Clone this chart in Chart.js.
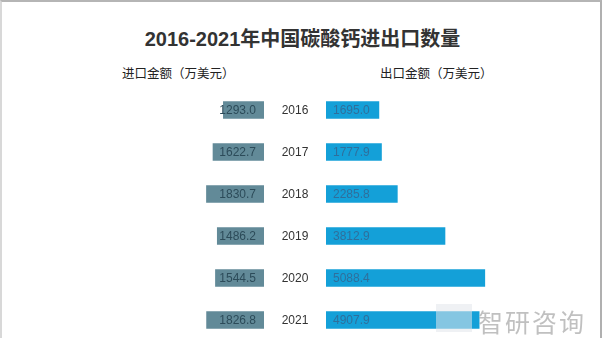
<!DOCTYPE html>
<html>
<head>
<meta charset="utf-8">
<script src="https://cdn.jsdelivr.net/npm/chart.js@4/dist/chart.umd.min.js"></script>
<style>
  body { margin: 0; width: 605px; height: 338px; overflow: hidden; background: #fff; position: relative; font-family: "Liberation Sans", "Noto Sans CJK SC", sans-serif; }
  #frame { position: absolute; left: 0; top: 0; width: 602px; height: 338px; border-top: 2px solid #b5b5b5; border-left: 2px solid #d8d8d8; border-right: 2px solid #b0b0b0; box-sizing: border-box; }
  #title { position: absolute; top: 23px; left: 0; width: 605px; text-align: center; font: bold 20px "Liberation Sans", "Noto Sans CJK SC", sans-serif; color: #333; }
  .head { position: absolute; top: 63px; font: 12.5px "Noto Sans CJK SC", sans-serif; color: #222; }
  #left-wrap { position: absolute; left: 0; top: 89px; width: 326px; height: 252px; }
  #right-wrap { position: absolute; left: 326px; top: 89px; width: 279px; height: 252px; }
  #mark { position: absolute; left: 478px; top: 303px; font: 25px "Noto Sans CJK SC", sans-serif; color: rgba(165,165,165,0.7); letter-spacing: 2px; }
  #logo { position: absolute; left: 436px; top: 304px; width: 36px; height: 28px; background: rgba(225,230,235,0.55); }
</style>
</head>
<body>
<div id="frame"></div>
<div id="title">2016-2021年中国碳酸钙进出口数量</div>
<div class="head" style="left:122px">进口金额（万美元）</div>
<div class="head" style="left:380px">出口金额（万美元）</div>
<div id="left-wrap"><canvas id="left-chart"></canvas></div>
<div id="right-wrap"><canvas id="right-chart"></canvas></div>
<div id="logo"></div>
<div id="mark">智研咨询</div>
<script>
  var years = ['2016', '2017', '2018', '2019', '2020', '2021'];
  var importValues = [1293.0, 1622.7, 1830.7, 1486.2, 1544.5, 1826.8];
  var exportValues = [1695.0, 1777.9, 2285.8, 3812.9, 5088.4, 4907.9];

  // draws the value inside each bar, and the years between the two charts
  var valueLabels = {
      id: 'valueLabels',
      afterDatasetsDraw: function(chart, args, opts) {
          var ctx = chart.ctx;
          var meta = chart.getDatasetMeta(0);
          ctx.save();
          ctx.font = '12px "Liberation Sans", sans-serif';
          ctx.textBaseline = 'middle';
          meta.data.forEach(function(bar, i) {
              var v = chart.data.datasets[0].data[i].toFixed(1);
              ctx.fillStyle = opts.color;
              if (opts.side == 'left') {
                  ctx.textAlign = 'right';
                  ctx.fillText(v, bar.base - 8, bar.y + 1);
                  ctx.fillStyle = '#333';
                  ctx.textAlign = 'center';
                  ctx.fillText(chart.data.labels[i], chart.chartArea.right + 31, bar.y + 1);
              } else {
                  ctx.textAlign = 'left';
                  ctx.fillText(v, bar.base + 7, bar.y + 1);
              }
          });
          ctx.restore();
      }
  };

  function makeConfig(values, color, max, reverse, side, labelColor, padRight) {
      return {
          type: 'bar',
          data: {
              labels: years,
              datasets: [{
                  data: values,
                  backgroundColor: color,
                  barThickness: 17
              }]
          },
          options: {
              indexAxis: 'y',
              responsive: true,
              maintainAspectRatio: false,
              animation: false,
              layout: { padding: { left: 0, right: padRight, top: 0, bottom: 0 } },
              plugins: {
                  legend: { display: false },
                  tooltip: { enabled: false },
                  valueLabels: { side: side, color: labelColor }
              },
              scales: {
                  x: { display: false, min: 0, max: max, reverse: reverse },
                  y: { display: false }
              }
          },
          plugins: [valueLabels]
      };
  }

  var leftChart = new Chart(document.getElementById('left-chart'),
      makeConfig(importValues, '#628a98', 8400, true, 'left', '#2c4b59', 62));
  var rightChart = new Chart(document.getElementById('right-chart'),
      makeConfig(exportValues, '#14a0d8', 8940, false, 'right', '#2f6f9c', 0));
</script>
</body>
</html>
